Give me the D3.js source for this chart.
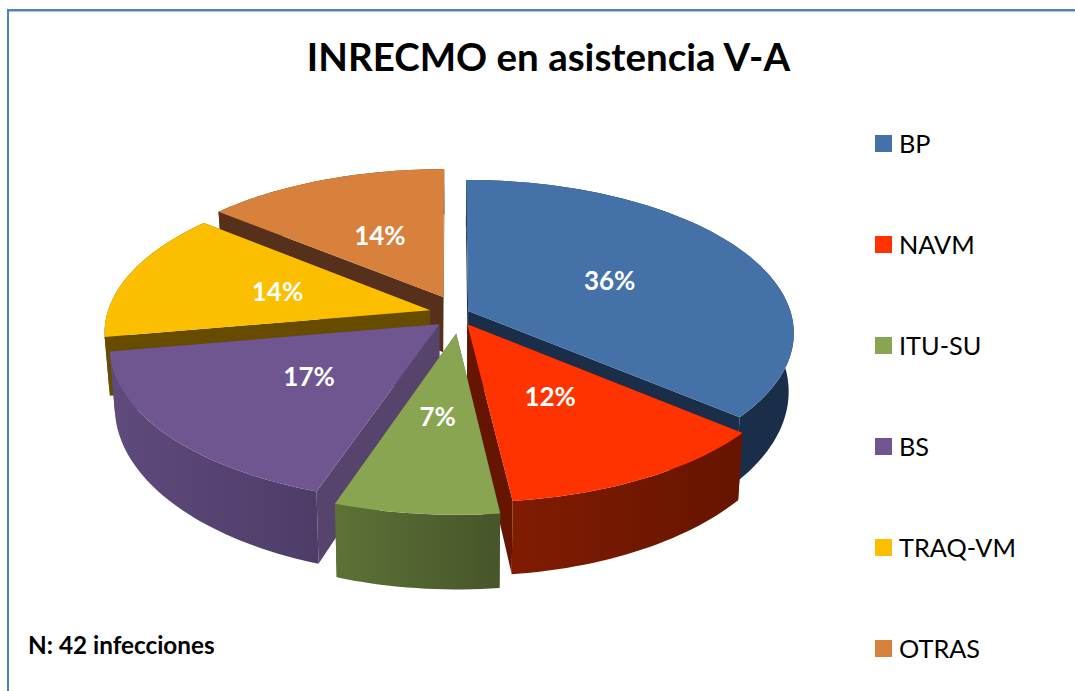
<!DOCTYPE html>
<html><head><meta charset="utf-8">
<script src="https://cdn.jsdelivr.net/npm/d3@7"></script>
<style>html,body{margin:0;padding:0;background:#fff}svg{display:block}text{font-family:Lato,"Open Sans",sans-serif}</style>
</head><body><svg id="c" width="1075" height="691"></svg>
<script>
const categories = ["BP","NAVM","ITU-SU","BS","TRAQ-VM","OTRAS"];
const shares = [36.2,12,7,17,13.8,14];
const topColors = ["#4472a8","#ff3300","#8aa551","#6f5690","#fcbf00","#d8813d"];
const wallColors = ["#1a2e4a","#661600","#4f5f2e","#57446c","#674c00","#56301a"];
const sideLeft = ["#1a2e4a","#801c02","#5c7236","#5f4b7c","#674c00","#56301a"];
const sideRight = ["#1a2e4a","#661400","#47552a","#4e3c68","#674c00","#56301a"];
const drawOrder = [5,4,0,3,1,2];
const explodeU = [0.05,0.047,0.013,-0.039,-0.068,-0.028];
const explodeV = [-0.04,0.047,0.107,0.047,-0.045,-0.135];

const W=1075,H=691;
const svg=d3.select("#c");
const cx=452,cy=317,B=324,A=151,p=0.14,D=57;
const proj=(u,v,h)=>{
  const s=1/(1-p*v);
  const x=cx+B*u*s;
  return [cx+(x-cx)*(1-0.015*h), cy+A*v*s+D*h*Math.pow(s,1.6)];
};
const pie=d3.pie().sort(null).value(d=>d);
const arcs=pie(shares);
const total=d3.sum(shares);
const pct=d3.format(".0%");
const line=d3.line();
const defs=svg.append("defs");

svg.append("rect").attr("x",8).attr("y",10).attr("width",W+20).attr("height",H+20)
  .attr("fill","#fff").attr("stroke","#4f81bd").attr("stroke-width",2);
svg.append("line").attr("x1",9).attr("x2",W).attr("y1",11.5).attr("y2",11.5).attr("stroke","#a9c3e3").attr("stroke-width",1);

svg.append("text").attr("x",548.5).attr("y",71).attr("text-anchor","middle")
  .attr("font-size",38.5).attr("font-weight",700).attr("fill","#000").text("INRECMO en asistencia V-A");

function geom(a,i){
  const mid=(a.startAngle+a.endAngle)/2;
  const ou=explodeU[i],ov=explodeV[i];
  const at=(ang,r,h)=>proj(ou+r*Math.sin(ang),ov-r*Math.cos(ang),h);
  const n=Math.max(8,Math.round((a.endAngle-a.startAngle)*40));
  const angs=d3.range(n+1).map(k=>a.startAngle+(a.endAngle-a.startAngle)*k/n);
  return {mid,at,angs};
}
drawOrder.forEach(i=>{
  const a=arcs[i],g=geom(a,i),at=g.at,angs=g.angs;
  const G=svg.append("g");
  const topArc=angs.map(t=>at(t,1,0)), botArc=angs.map(t=>at(t,1,1));
  const xs=topArc.map(d=>d[0]);
  const gid="side"+i;
  const lg=defs.append("linearGradient").attr("id",gid).attr("gradientUnits","userSpaceOnUse")
    .attr("x1",d3.min(xs)).attr("x2",d3.max(xs)).attr("y1",0).attr("y2",0);
  lg.append("stop").attr("offset",0).attr("stop-color",sideLeft[i]);
  lg.append("stop").attr("offset",1).attr("stop-color",sideRight[i]);
  [a.startAngle,a.endAngle].forEach(t=>{
    G.append("path").attr("d",line([at(t,0,0),at(t,1,0),at(t,1,1),at(t,0,1)])+"Z").attr("fill",wallColors[i]);
  });
  G.append("path").attr("d",line(topArc.concat(botArc.slice().reverse()))+"Z").attr("fill",`url(#${gid})`);
  G.append("path").attr("d",line([at(0,0,0)].concat(topArc))+"Z").attr("fill",topColors[i]);
});
arcs.forEach((a,i)=>{
  const g=geom(a,i),q=g.at(g.mid,0.5,0);
  svg.append("text").attr("x",q[0]).attr("y",q[1]+9.5).attr("text-anchor","middle")
    .attr("font-size",26).attr("font-weight",700).attr("fill","#fff").text(pct(shares[i]/total));
});
const ly=d3.scalePoint().domain(categories).range([143.5,648.5]);
categories.forEach((c,i)=>{
  svg.append("rect").attr("x",875).attr("y",ly(c)-8.5).attr("width",17).attr("height",17).attr("fill",topColors[i]);
  svg.append("text").attr("x",899).attr("y",ly(c)+9).attr("font-size",25.3).attr("fill","#000").text(c);
});
svg.append("text").attr("x",28).attr("y",654).attr("font-size",24.3).attr("font-weight",700).attr("fill","#000").text("N: 42 infecciones");
</script></body></html>
